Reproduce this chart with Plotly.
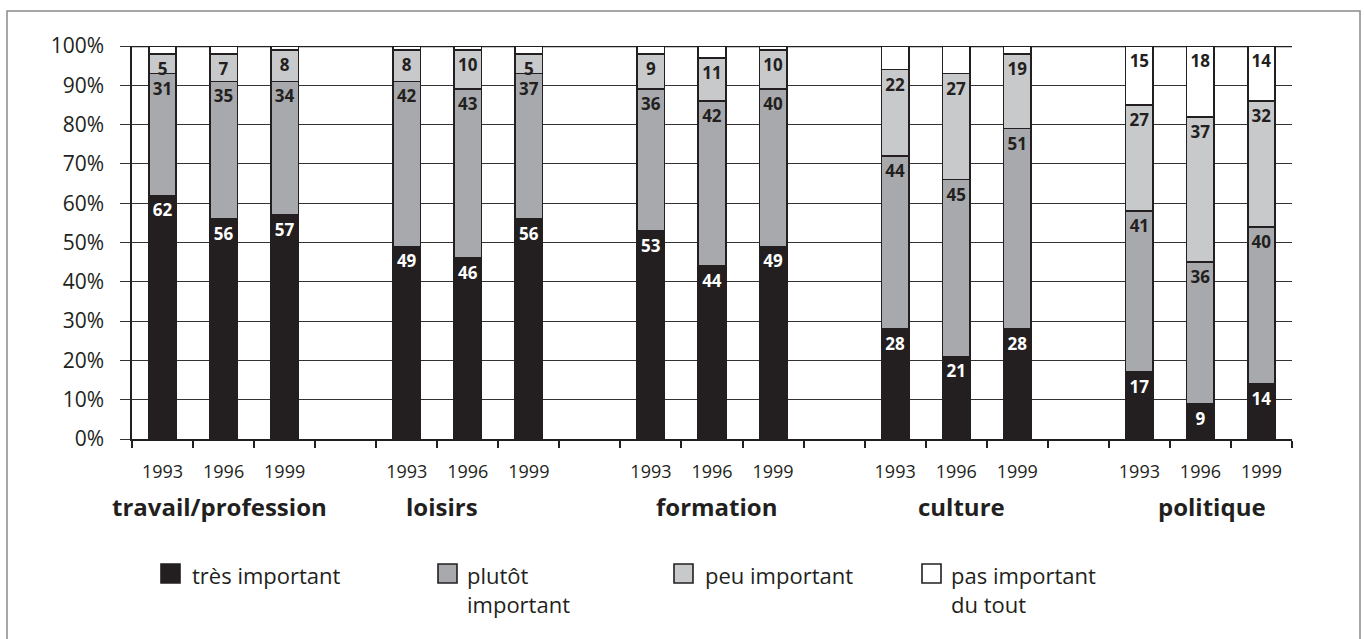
import plotly.graph_objects as go

# ---- data ----
groups = ["travail/profession", "loisirs", "formation", "culture", "politique"]
years = ["1993", "1996", "1999"]
tres_important = [62, 56, 57, 49, 46, 56, 53, 44, 49, 28, 21, 28, 17, 9, 14]
plutot_important = [31, 35, 34, 42, 43, 37, 36, 42, 40, 44, 45, 51, 41, 36, 40]
peu_important = [5, 7, 8, 8, 10, 5, 9, 11, 10, 22, 27, 19, 27, 37, 32]
pas_important = [2, 2, 1, 1, 1, 2, 2, 3, 1, 6, 7, 2, 15, 18, 14]
pas_labelled = [False] * 12 + [True] * 3
legend_labels = ["très important", "plutôt<br>important", "peu important", "pas important<br>du tout"]
group_label_offsets = [-0.07, -0.42, 0.08, 0.08, 0.19]  # visual offset of group titles

# ---- style ----
DARK = "#231f20"
C_TRES = "#231f20"
C_PLUTOT = "#a7a9ac"
C_PEU = "#c8c9cb"
C_PAS = "#ffffff"
FONT = "Open Sans"

W, H = 1364, 639
L, R, T, B = 132, 72, 46, 200
PW, PH = W - L - R, H - T - B


def px2x(px):
    return (px - L) / PW


def py2y(py):
    return (H - B - py) / PH


n_slots = len(groups) * (len(years) + 1) - 1
xpos = [g * (len(years) + 1) + j for g in range(len(groups)) for j in range(len(years))]
xticktext = years * len(groups)

series = [
    ("très important", tres_important, C_TRES, "white", [str(v) for v in tres_important]),
    ("plutôt important", plutot_important, C_PLUTOT, DARK, [str(v) for v in plutot_important]),
    ("peu important", peu_important, C_PEU, DARK, [str(v) for v in peu_important]),
    ("pas important du tout", pas_important, C_PAS, DARK,
     [str(v) if s else "" for v, s in zip(pas_important, pas_labelled)]),
]

fig = go.Figure()
for name, vals, col, tcol, txt in series:
    fig.add_trace(go.Bar(
        x=xpos, y=vals, name=name, width=0.45,
        marker=dict(color=col, line=dict(color=DARK, width=1.6)),
        text=txt, textposition="inside", insidetextanchor="end", textangle=0,
        textfont=dict(family=FONT, size=17, color=tcol, weight="bold"),
        showlegend=False, hoverinfo="skip",
    ))

fig.update_layout(
    width=W, height=H, barmode="stack",
    margin=dict(l=L, r=R, t=T, b=B),
    paper_bgcolor="white", plot_bgcolor="white",
    font=dict(family=FONT, color=DARK),
    uniformtext=dict(minsize=17, mode="show"),
)

fig.update_xaxes(
    range=[-0.5, n_slots - 0.5],
    tickmode="array", tickvals=xpos, ticktext=xticktext,
    ticks="", ticklabelstandoff=16,
    tickfont=dict(family=FONT, size=18, color=DARK),
    showgrid=False, zeroline=False,
    showline=True, linecolor=DARK, linewidth=1.5,
    minor=dict(tickmode="array", tickvals=[k - 0.5 for k in range(n_slots + 1)],
               ticks="outside", ticklen=7, tickwidth=1.5, tickcolor=DARK, showgrid=False),
)

fig.update_yaxes(
    range=[0, 100], tickmode="linear", tick0=0, dtick=10, ticksuffix="%",
    tickfont=dict(family=FONT, size=21, color=DARK),
    ticks="outside", ticklen=10, tickcolor="#333333", tickwidth=1.2,
    ticklabelstandoff=12,
    showgrid=True, gridcolor="#333333", gridwidth=1.2,
    zeroline=False, showline=True, linecolor=DARK, linewidth=1.5,
)

shapes = [
    # top 100% line
    dict(type="line", xref="paper", yref="y", x0=0, x1=1, y0=100, y1=100,
         line=dict(color=DARK, width=2.5), layer="below"),
    # outer frame
    dict(type="rect", xref="paper", yref="paper",
         x0=px2x(7), x1=px2x(1360), y0=py2y(645), y1=py2y(11),
         line=dict(color="#8a8a8a", width=1.5)),
]

annotations = []
# group titles
for g, name in enumerate(groups):
    cx = g * (len(years) + 1) + (len(years) - 1) / 2 + group_label_offsets[g]
    annotations.append(dict(
        x=cx, xref="x", y=py2y(506), yref="paper", text="<b>%s</b>" % name,
        showarrow=False, xanchor="center", yanchor="middle",
        font=dict(family=FONT, size=24, color=DARK)))

# legend (custom)
leg_sq_x = [161, 438, 674, 922]
leg_txt_x = [190, 465, 703, 949]
leg_cols = [C_TRES, C_PLUTOT, C_PEU, C_PAS]
for sx, tx, col, lab in zip(leg_sq_x, leg_txt_x, leg_cols, legend_labels):
    shapes.append(dict(type="rect", xref="paper", yref="paper",
                       x0=px2x(sx), x1=px2x(sx + 19), y0=py2y(583), y1=py2y(564),
                       fillcolor=col, line=dict(color=DARK, width=1.6)))
    annotations.append(dict(
        x=px2x(tx), xref="paper", y=py2y(558), yref="paper", text=lab,
        showarrow=False, xanchor="left", yanchor="top", align="left",
        font=dict(family=FONT, size=22, color=DARK)))

fig.update_layout(shapes=shapes, annotations=annotations)

fig.write_html("out.html", config={"displayModeBar": False},
               post_script="document.body.style.margin='0';")
